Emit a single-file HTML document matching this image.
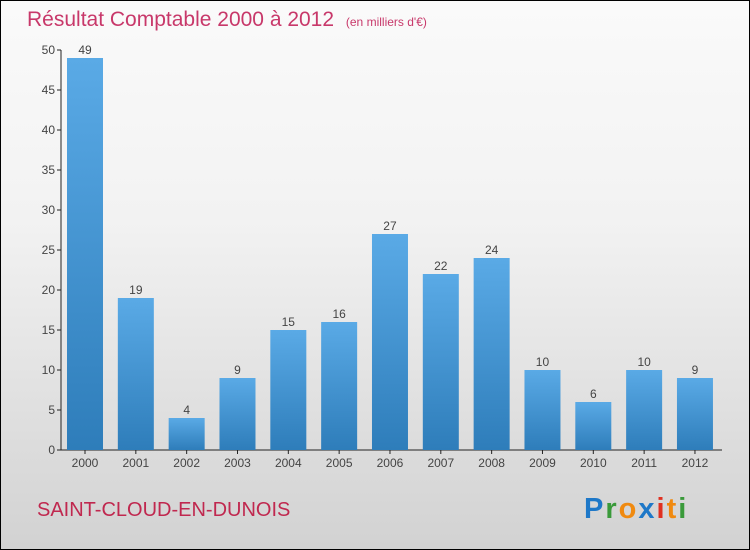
<!DOCTYPE html>
<html><head><meta charset="utf-8"><style>
body{margin:0}
#c{width:748px;height:548px;border:1px solid #000;background:linear-gradient(#fafafa,#f2f2f2 40%,#d2d2d2);position:relative;font-family:"Liberation Sans",sans-serif;overflow:hidden}
</style></head><body>
<div id="c">
<svg id="s" width="748" height="548" style="position:absolute;left:0;top:0">
<defs><linearGradient id="g" x1="0" y1="0" x2="0" y2="1"><stop offset="0" stop-color="#5aaae6"/><stop offset="1" stop-color="#2e7dba"/></linearGradient></defs>
<text x="26" y="25" font-size="21" fill="#c8386a">Résultat Comptable 2000 à 2012 <tspan font-size="12" dx="6">(en milliers d'€)</tspan></text>
<text x="36" y="515" font-size="20" fill="#c0284f">SAINT-CLOUD-EN-DUNOIS</text>
<g font-size="29" font-weight="bold" letter-spacing="2"><text x="583" y="517"><tspan fill="#1e78c8">P</tspan><tspan fill="#3a9a3a">r</tspan><tspan fill="#f08a10">o</tspan><tspan fill="#1e78c8">x</tspan><tspan fill="#e03020">i</tspan><tspan fill="#f08a10">t</tspan><tspan fill="#3a9a3a">i</tspan></text></g>
</svg></div>
<script>
const years=["2000","2001","2002","2003","2004","2005","2006","2007","2008","2009","2010","2011","2012"];
const values=[49,19,4,9,15,16,27,22,24,10,6,10,9];
const yTicks=[0,5,10,15,20,25,30,35,40,45,50];
const s=document.getElementById('s'),NS='http://www.w3.org/2000/svg';
const y=v=>449-v*8, x=i=>84+i*50.83;
function mk(t,a,txt){const e=document.createElementNS(NS,t);for(const k in a)e.setAttribute(k,a[k]);if(txt!=null)e.textContent=txt;s.appendChild(e);return e;}
let e=mk('line',{x1:60,y1:y(0),x2:721,y2:y(0),stroke:'#222'});


e=mk('line',{x1:60,y1:y(50),x2:60,y2:y(0),stroke:'#222'});


yTicks.forEach(t=>{
 mk('line',{x1:56,y1:y(t),x2:60,y2:y(t),stroke:'#222'});
 e=mk('text',{x:54,y:y(t)+4,'font-size':12,fill:'#444','text-anchor':'end'},t);
 
 
});
years.forEach((yr,i)=>{
 const v=values[i];
 e=mk('rect',{x:x(i)-18,y:y(v),width:36,height:v*8,fill:'url(#g)'});
 
 
 e=mk('text',{x:x(i),y:y(v)-4,'font-size':12,fill:'#444','text-anchor':'middle'},v);
 
 
 mk('line',{x1:x(i),y1:y(0),x2:x(i),y2:y(0)+4,stroke:'#222'});
 e=mk('text',{x:x(i),y:466,'font-size':12,fill:'#444','text-anchor':'middle'},yr);
 
 
});
</script>
</body></html>
